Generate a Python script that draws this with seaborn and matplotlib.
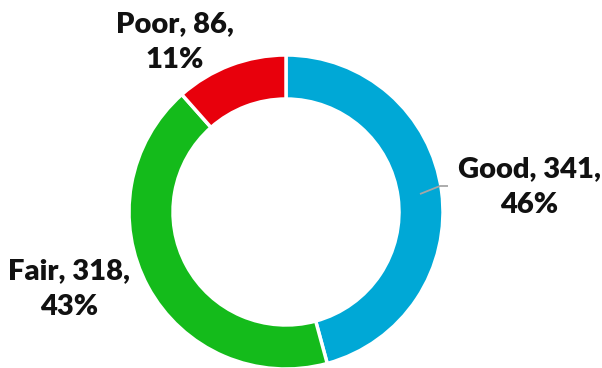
import matplotlib
matplotlib.use("Agg")
import matplotlib.pyplot as plt
import seaborn as sns

# Ratings breakdown
categories = ["Good", "Fair", "Poor"]
counts = [341, 318, 86]
percents = [46, 43, 11]

sns.set_theme(style="white")
plt.rcParams["font.family"] = ["Lato", "DejaVu Sans"]

colors = ["#00A8D6", "#14BB1B", "#E8000C"]

W, H = 602, 368
fig = plt.figure(figsize=(W / 100, H / 100), dpi=100)
ax = fig.add_axes([0, 0, 1, 1])

cx, cy, R = 286, H - 212, 157
ax.pie(counts, colors=colors, startangle=90, counterclock=False,
       radius=R, center=(cx, cy), frame=True,
       wedgeprops=dict(width=44, edgecolor="white", linewidth=2.5))
ax.set_xlim(0, W)
ax.set_ylim(0, H)
ax.set_aspect("equal")
ax.axis("off")

# label anchor points (pixel coords from top-left)
label_pos = {"Good": (529, 187), "Fair": (69, 289), "Poor": (175, 42)}
for cat, n, p in zip(categories, counts, percents):
    x, y = label_pos[cat]
    ax.text(x, H - y, f"{cat}, {n},\n{p}%", ha="center", va="center",
            fontsize=21, fontweight="heavy", color="#111111", linespacing=1.5)

# leader line for the Good label
ax.plot([420, 440, 448], [H - 194, H - 186, H - 186], color="#A6A6A6", lw=1.3,
        solid_capstyle="butt")

fig.savefig("out.png", dpi=100)
